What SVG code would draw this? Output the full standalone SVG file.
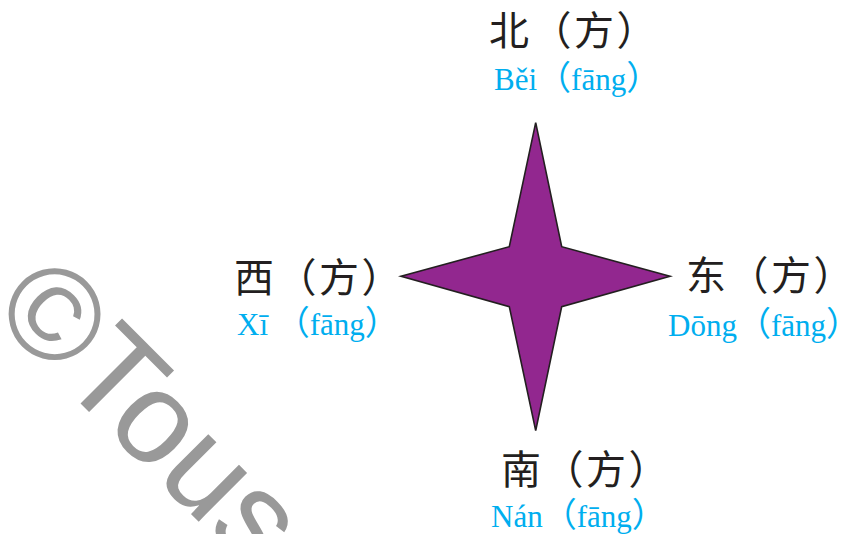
<svg xmlns="http://www.w3.org/2000/svg" width="844" height="534" viewBox="0 0 844 534">
<style>
.zh{font-family:"Noto Sans CJK SC","Noto Sans CJK JP",sans-serif;font-size:40px;letter-spacing:2.5px;fill:#231f20;}
.py{font-family:"Liberation Serif","Noto Sans CJK SC",serif;font-size:31px;fill:#00aeef;}
.pp{font-family:"Noto Sans CJK SC","Noto Sans CJK JP",sans-serif;font-size:34px;}
.wm{font-family:"Liberation Sans",Arial,sans-serif;font-size:130px;fill:#999999;}
</style>
<rect width="844" height="534" fill="#ffffff"/>
<g id="watermark">
<text class="wm" transform="translate(-11,312) rotate(45)" x="0" y="0">©Tous</text>
</g>
<g id="star">
<polygon points="535.7,122.7 561.7,246.7 670,276.3 561.7,306.7 535.7,430.7 509.3,306.7 401,276.3 509.3,246.7" fill="#92278f" stroke="#231f20" stroke-width="1.6" stroke-linejoin="miter"/>
</g>
<g id="north">
<text class="zh" x="489" y="45">北（方）</text>
<text class="py" x="494" y="90">Běi<tspan class="pp">（</tspan>fāng<tspan class="pp">）</tspan></text>
</g>
<g id="west">
<text class="zh" x="234" y="292">西（方）</text>
<text class="py" x="237" y="335">Xī <tspan class="pp">（</tspan>fāng<tspan class="pp">）</tspan></text>
</g>
<g id="east">
<text class="zh" x="686" y="290">东（方）</text>
<text class="py" x="668" y="336">Dōng<tspan class="pp">（</tspan>fāng<tspan class="pp">）</tspan></text>
</g>
<g id="south">
<text class="zh" x="501" y="484">南（方）</text>
<text class="py" x="491" y="527">Nán<tspan class="pp">（</tspan>fāng<tspan class="pp">）</tspan></text>
</g>
</svg>
